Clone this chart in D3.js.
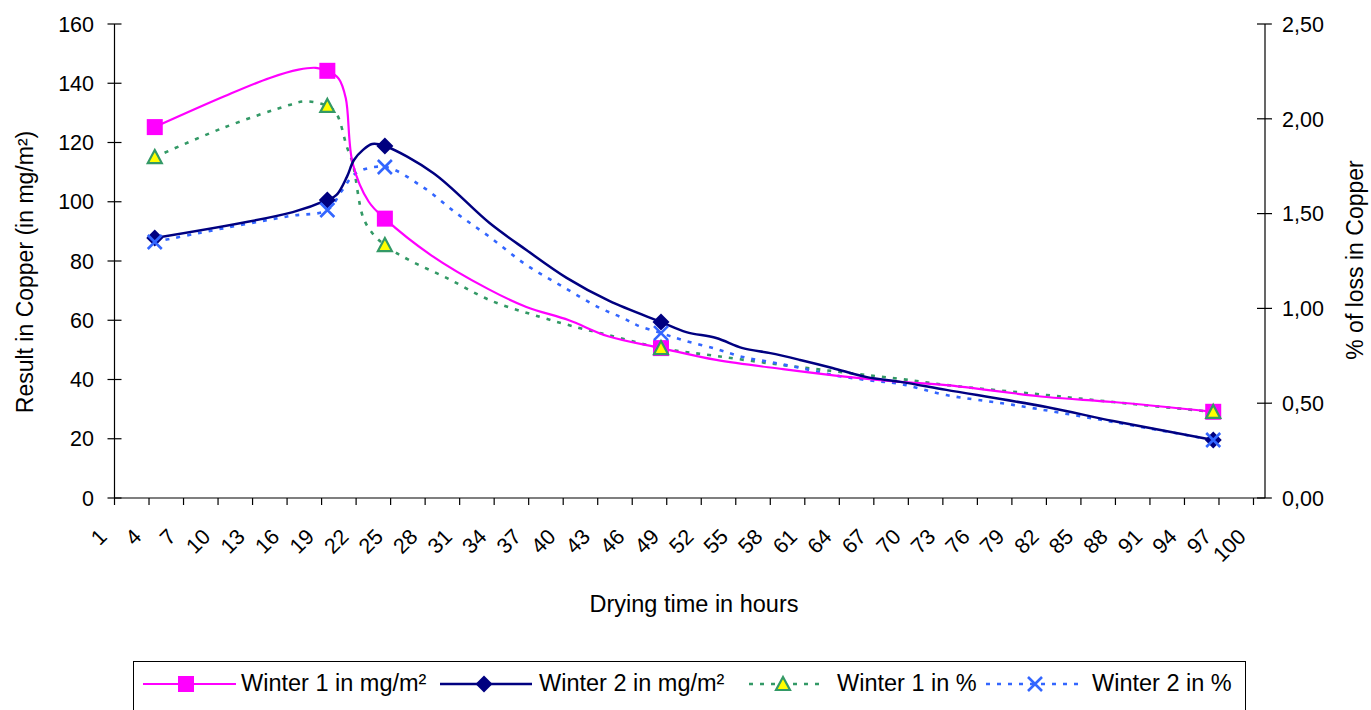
<!DOCTYPE html>
<html><head><meta charset="utf-8">
<script src="https://cdn.jsdelivr.net/npm/d3@7"></script>
<style>
body{margin:0;background:#fff}
text{font-family:"Liberation Sans",Arial,sans-serif;fill:#000}
</style></head>
<body><svg id="c" width="1371" height="710"></svg>
<script>
// ---- data ----
const xTickLabels = [1,4,7,10,13,16,19,22,25,28,31,34,37,40,43,46,49,52,55,58,61,64,67,70,73,76,79,82,85,88,91,94,97,100];
const leftTicks = [0,20,40,60,80,100,120,140,160];
const rightTicks = [0,0.5,1,1.5,2,2.5];
const markerHours = [4,19,24,48,96];
const seriesNames = ["Winter 1 in mg/m²","Winter 2 in mg/m²","Winter 1 in %","Winter 2 in %"];
const winter1mg = [[4,125.2],[10,135.5],[14,141.8],[16.5,144.6],[18,145.2],[19,144.2],[20,141.5],[20.6,135],[21.2,113],[22.6,100],[24,94.3],[28,82],[33,70.5],[36.3,64.5],[40,60],[43.4,54.6],[48,50.6],[52.8,46.6],[58.6,43.5],[64.4,40.8],[68.8,39.2],[72.8,38.1],[81.5,34.1],[87.3,32.4],[96,29.1]];
const winter2mg = [[4,87.8],[16,96.5],[19,100.6],[19.8,102.3],[20.7,108.4],[21.3,114],[22.1,117.5],[22.9,119.5],[24,118.8],[28.2,109.7],[33.1,92.8],[36.3,83.7],[39.8,74.3],[43.5,66.5],[48,59.4],[50.2,56],[52.8,54],[55.1,50.6],[57.5,48.9],[60.1,46.6],[62.9,43.9],[65.9,40.8],[68.8,39.2],[72.8,36.5],[81.5,30.7],[87.3,26],[96,19.6]];
const winter1pct = [[4,1.798],[9.9,1.951],[15.7,2.073],[17,2.092],[19,2.068],[19.8,2.026],[20.7,1.851],[21.2,1.767],[22.1,1.482],[22.9,1.398],[24,1.334],[26.1,1.255],[29.4,1.16],[33.1,1.044],[37.5,0.955],[40.9,0.897],[43.4,0.86],[48,0.791],[52.8,0.749],[58.6,0.701],[64.4,0.659],[68.8,0.628],[72.8,0.596],[81.5,0.543],[87.3,0.506],[96,0.454]];
const winter2pct = [[4,1.35],[7.9,1.398],[15.7,1.487],[19,1.519],[20.3,1.624],[21.5,1.714],[24,1.746],[27.3,1.64],[30.2,1.503],[33.1,1.377],[36.3,1.229],[39.5,1.113],[42.7,1.002],[44.7,0.949],[45.9,0.912],[48,0.87],[49.9,0.833],[52.8,0.786],[55.1,0.744],[57.5,0.717],[60.1,0.686],[62.9,0.649],[65.9,0.622],[68.8,0.601],[72.8,0.543],[78.6,0.491],[87.3,0.401],[96,0.306]];

// ---- layout ----
const svg = d3.select("#c");
const L = 114.5, R = 1265, T = 24, B = 498;
const x = d3.scaleLinear().domain([0.5,100.5]).range([L,R]);
const yL = d3.scaleLinear().domain([0,160]).range([B,T]);
const yR = d3.scaleLinear().domain([0,2.5]).range([B,T]);
const fmtR = v => d3.format(".2f")(v).replace(".", ",");

// axes lines
const ax = svg.append("g").attr("stroke","#000").attr("stroke-width",1.2);
ax.append("line").attr("x1",L).attr("x2",L).attr("y1",T).attr("y2",B);
ax.append("line").attr("x1",R).attr("x2",R).attr("y1",T).attr("y2",B);
ax.append("line").attr("x1",L).attr("x2",R).attr("y1",B).attr("y2",B);
leftTicks.forEach(v=>{
  ax.append("line").attr("x1",L-7).attr("x2",L+7).attr("y1",yL(v)).attr("y2",yL(v));
  svg.append("text").attr("x",94).attr("y",yL(v)).attr("dy","0.36em").attr("text-anchor","end").attr("font-size",21.5).text(v);
});
rightTicks.forEach(v=>{
  ax.append("line").attr("x1",R-8).attr("x2",R+7).attr("y1",yR(v)).attr("y2",yR(v));
  svg.append("text").attr("x",1282).attr("y",yR(v)).attr("dy","0.36em").attr("text-anchor","start").attr("font-size",21.5).text(fmtR(v));
});
xTickLabels.forEach(v=>{
  const b = x(v-0.5);
  ax.append("line").attr("x1",b).attr("x2",b).attr("y1",B).attr("y2",B+7);
  svg.append("text").attr("text-anchor","end").attr("font-size",21.5)
    .attr("transform",`translate(${x(v)-12},538) rotate(-45)`).text(v);
});

// titles
svg.append("text").attr("text-anchor","middle").attr("font-size",23)
  .attr("transform","translate(33,272) rotate(-90)").text("Result in Copper (in mg/m²)");
svg.append("text").attr("text-anchor","middle").attr("font-size",23)
  .attr("transform","translate(1363,260) rotate(-90)").text("% of loss in Copper");
svg.append("text").attr("text-anchor","middle").attr("font-size",23.5)
  .attr("x",694).attr("y",612).text("Drying time in hours");

// lines
const series = [
  {data:winter1mg, y:yL, color:"#FF00FF", w:2.2, dash:null, marker:"square"},
  {data:winter2mg, y:yL, color:"#000080", w:2.5, dash:null, marker:"diamond"},
  {data:winter1pct, y:yR, color:"#339966", w:2.6, dash:"4,7", marker:"triangle"},
  {data:winter2pct, y:yR, color:"#3366FF", w:2.6, dash:"4,7", marker:"cross"}
];
const drawOrder = [2,3,0,1];
drawOrder.forEach(i=>{
  const s = series[i];
  const line = d3.line().x(d=>x(d[0])).y(d=>s.y(d[1])).curve(d3.curveCatmullRom.alpha(0.5));
  svg.append("path").attr("d",line(s.data)).attr("fill","none").attr("stroke",s.color)
    .attr("stroke-width",s.w).attr("stroke-dasharray",s.dash);
});

function marker(g, type, cx, cy){
  if(type==="square"){
    g.append("rect").attr("x",cx-8).attr("y",cy-8).attr("width",16).attr("height",16).attr("fill","#FF00FF");
  } else if(type==="diamond"){
    g.append("path").attr("d",`M${cx},${cy-8.5}L${cx+8.5},${cy}L${cx},${cy+8.5}L${cx-8.5},${cy}Z`).attr("fill","#000080");
  } else if(type==="triangle"){
    g.append("path").attr("d",`M${cx},${cy-7}L${cx+7},${cy+6}L${cx-7},${cy+6}Z`).attr("fill","#FFFF00")
      .attr("stroke","#339966").attr("stroke-width",2.2).attr("stroke-linejoin","miter");
  } else {
    g.append("path").attr("d",`M${cx-7},${cy-7}L${cx+7},${cy+7}M${cx-7},${cy+7}L${cx+7},${cy-7}`)
      .attr("stroke","#3366FF").attr("stroke-width",2.6).attr("fill","none");
  }
}
[0,1,2,3].forEach(i=>{
  const s = series[i];
  const g = svg.append("g");
  s.data.filter(d=>markerHours.includes(d[0])).forEach(d=>marker(g, s.marker, x(d[0]), s.y(d[1])));
});

// legend
svg.append("rect").attr("x",133.5).attr("y",661.5).attr("width",1112).attr("height",70)
  .attr("fill","none").attr("stroke","#000").attr("stroke-width",1);
const legendPos = [
  {x1:143,x2:236,mx:186,tx:241},
  {x1:440,x2:532,mx:484,tx:539},
  {x1:749,x2:823,mx:783,tx:837},
  {x1:986,x2:1078,mx:1035,tx:1092}
];
legendPos.forEach((p,i)=>{
  const s = series[i];
  const g = svg.append("g");
  g.append("line").attr("x1",p.x1).attr("x2",p.x2).attr("y1",684).attr("y2",684)
    .attr("stroke",s.color).attr("stroke-width",s.w).attr("stroke-dasharray",s.dash);
  marker(g, s.marker, p.mx, 684);
  svg.append("text").attr("x",p.tx).attr("y",691).attr("font-size",23.5).text(seriesNames[i]);
});
</script></body></html>
